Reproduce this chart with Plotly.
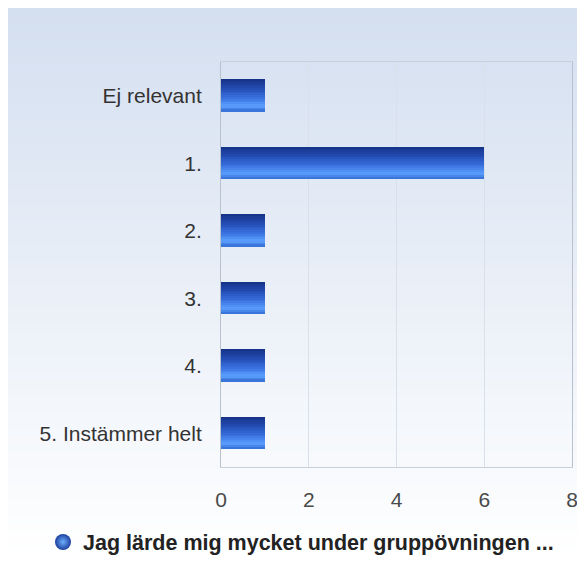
import plotly.graph_objects as go

# ---- data ----
categories = ["Ej relevant", "1.", "2.", "3.", "4.", "5. Instämmer helt"]
values = [1, 6, 1, 1, 1, 1]
series_name = "Jag lärde mig mycket under gruppövningen ..."
x_ticks = [0, 2, 4, 6, 8]

# ---- layout geometry (page body has an 8px margin) ----
OFF = 8
W, H = 585 - OFF, 563 - OFF
ML = 221 - OFF
MT = 62 - OFF
MR = W - (572 - OFF)
MB = H - (467 - OFF)
PW, PH = W - ML - MR, H - MT - MB


def px2x(px):  # screen px -> paper x
    return (px - OFF - ML) / PW


def py2y(py):  # screen px -> paper y
    return 1 - (py - OFF - MT) / PH


def lerp_color(c1, c2, t):
    return "rgb(%d,%d,%d)" % tuple(round(a + (b - a) * t) for a, b in zip(c1, c2))


def interp_stops(stops, t):
    for (t0, c0), (t1, c1) in zip(stops, stops[1:]):
        if t0 <= t <= t1:
            return lerp_color(c0, c1, (t - t0) / (t1 - t0) if t1 > t0 else 0)
    return lerp_color(stops[-1][1], stops[-1][1], 0)


fig = go.Figure()

# bar drawn as horizontal stripes to imitate the vertical gradient
bar_w = 0.47
n_stripes = 18
stripe_w = bar_w / n_stripes
bar_stops = [
    (0.0, (22, 50, 135)),
    (0.3, (36, 76, 180)),
    (0.6, (58, 116, 225)),
    (0.84, (92, 160, 255)),
    (1.0, (50, 108, 212)),
]
for i in range(n_stripes):
    t = (i + 0.5) / n_stripes
    fig.add_trace(go.Bar(
        x=values, y=categories, orientation="h",
        width=stripe_w * 1.04, offset=-bar_w / 2 + i * stripe_w,
        marker=dict(color=interp_stops(bar_stops, t), line=dict(width=0)),
        showlegend=False, hoverinfo="x+y",
    ))

# legend entry (round marker)
fig.add_trace(go.Scatter(
    x=[None], y=[None], mode="markers", name=series_name,
    marker=dict(symbol="circle", size=22, color="#1d3f9e",
                gradient=dict(type="radial", color="#6cb0ff"),
                line=dict(width=0)),
))

# background gradient
shapes = []
n_bg = 70
for i in range(n_bg):
    y0 = OFF + H * i / n_bg
    y1 = OFF + H * (i + 1) / n_bg + 1
    t = i / (n_bg - 1)
    shapes.append(dict(
        type="rect", xref="paper", yref="paper", layer="below",
        x0=px2x(OFF - 2), x1=px2x(OFF + W + 2), y0=py2y(y1), y1=py2y(y0),
        fillcolor=lerp_color((212, 223, 240), (255, 255, 255), t),
        line=dict(width=0),
    ))

font_family = "Liberation Sans, Arial, sans-serif"

fig.update_layout(
    width=W, height=H,
    margin=dict(l=ML, r=MR, t=MT, b=MB, pad=0, autoexpand=False),
    paper_bgcolor="white", plot_bgcolor="rgba(0,0,0,0)",
    barmode="overlay", bargap=0,
    shapes=shapes,
    font=dict(family=font_family, color="#333333", size=20),
    showlegend=True,
    legend=dict(orientation="h", x=px2x(301), xanchor="center",
                y=py2y(542), yanchor="middle",
                font=dict(family=font_family, size=21.5, color="#222222", weight="bold"),
                bgcolor="rgba(0,0,0,0)"),
    xaxis=dict(range=[0, 8], tickvals=x_ticks, ticktext=[str(v) for v in x_ticks],
               showgrid=True, gridcolor="#d9e0e9", gridwidth=1,
               zeroline=False, showline=True, linecolor="#c8d0da", linewidth=1,
               mirror=True, ticks="", ticklabelstandoff=14,
               tickfont=dict(size=21, color="#4a4a4a"), fixedrange=True),
    yaxis=dict(type="category", categoryorder="array", categoryarray=categories,
               autorange="reversed", showgrid=False, zeroline=False,
               showline=True, linecolor="#b8c2ce", linewidth=1, mirror=True,
               ticks="", ticklabelstandoff=14,
               tickfont=dict(size=21, color="#333333"), fixedrange=True),
)

fig.write_html("out.html")
